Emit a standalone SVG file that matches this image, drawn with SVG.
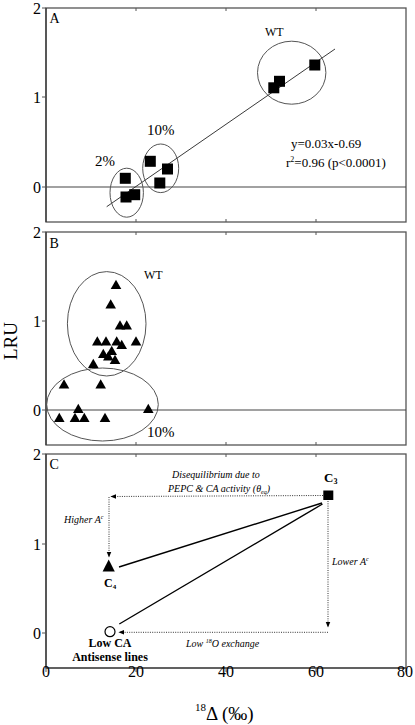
<svg xmlns="http://www.w3.org/2000/svg" xmlns:xlink="http://www.w3.org/1999/xlink" width="415" height="725" viewBox="0 0 415 725">
<style>
text{font-family:"Liberation Serif","Times New Roman",serif;fill:#000}
.frame{fill:none;stroke:#555;stroke-width:1.3}
.ax{stroke:#333;stroke-width:1.2;fill:none}
.tk{stroke:#555;stroke-width:1}
.zero{stroke:#444;stroke-width:1.2}
.ell{fill:none;stroke:#555;stroke-width:1}
.sq{fill:#000}
.tl{font-size:16px}
.pl{font-size:14px}
.lab{font-size:15px}
.it{font-style:italic;font-size:10px}
.bd{font-weight:bold;font-size:12px}
.dot{stroke:#333;stroke-width:1;stroke-dasharray:1,1.3;fill:none}
.sol{stroke:#000;stroke-width:1.4;fill:none}
</style>
<defs>
<path id="tri" d="M0,-4.7 L5.3,4.5 L-5.3,4.5 Z" fill="#000"/>
<marker id="ah" viewBox="0 0 10 10" refX="9" refY="5" markerWidth="6" markerHeight="6" orient="auto" markerUnits="userSpaceOnUse"><path d="M0,1 L10,5 L0,9 Z" fill="#000"/></marker>
</defs>

<!-- Panel A -->
<g id="panelA">
<rect class="frame" x="46" y="8" width="360" height="214"/>
<line class="ax" x1="46" y1="8" x2="46" y2="222"/>
<line class="tk" x1="42" y1="8" x2="46" y2="8"/>
<line class="tk" x1="42" y1="97" x2="46" y2="97"/>
<line class="tk" x1="42" y1="187" x2="46" y2="187"/>
<line class="tk" x1="136" y1="8" x2="136" y2="11"/>
<line class="tk" x1="226" y1="8" x2="226" y2="11"/>
<line class="tk" x1="316" y1="8" x2="316" y2="11"/>
<line class="tk" x1="136" y1="222" x2="136" y2="219"/>
<line class="tk" x1="226" y1="222" x2="226" y2="219"/>
<line class="tk" x1="316" y1="222" x2="316" y2="219"/>
<line class="zero" x1="46" y1="187" x2="406" y2="187"/>
<text class="tl" x="41" y="14" text-anchor="end">2</text>
<text class="tl" x="41" y="103" text-anchor="end">1</text>
<text class="tl" x="41" y="193" text-anchor="end">0</text>
<text class="pl" x="49.5" y="23">A</text>
<line x1="106.7" y1="206.7" x2="335" y2="49" stroke="#222" stroke-width="0.9"/>
<ellipse class="ell" cx="126.7" cy="192.7" rx="16.7" ry="24.5"/>
<ellipse class="ell" cx="160.7" cy="168.3" rx="18" ry="24.3"/>
<ellipse class="ell" cx="291.7" cy="72.7" rx="34.2" ry="31.5"/>
<rect class="sq" x="119.8" y="172.8" width="11" height="11"/>
<rect class="sq" x="120.5" y="191.5" width="11" height="11"/>
<rect class="sq" x="129.2" y="189.2" width="11" height="11"/>
<rect class="sq" x="144.8" y="155.8" width="11" height="11"/>
<rect class="sq" x="162" y="163.5" width="11" height="11"/>
<rect class="sq" x="154.3" y="177.5" width="11" height="11"/>
<rect class="sq" x="268.3" y="82.3" width="11" height="11"/>
<rect class="sq" x="274" y="75.8" width="11" height="11"/>
<rect class="sq" x="309.3" y="59.5" width="11" height="11"/>
<text class="lab" x="95" y="166">2%</text>
<text class="lab" x="147" y="135">10%</text>
<text x="265" y="36" style="font-size:12px">WT</text>
<text x="291" y="148" style="font-size:13px">y=0.03x-0.69</text>
<text x="286" y="167" style="font-size:13px">r<tspan dy="-5" style="font-size:8px">2</tspan><tspan dy="5">=0.96 (p&lt;0.0001)</tspan></text>
</g>

<!-- Panel B -->
<g id="panelB">
<rect class="frame" x="46" y="232" width="360" height="213"/>
<line class="ax" x1="46" y1="232" x2="46" y2="445"/>
<line class="tk" x1="42" y1="232" x2="46" y2="232"/>
<line class="tk" x1="42" y1="321" x2="46" y2="321"/>
<line class="tk" x1="42" y1="410" x2="46" y2="410"/>
<line class="tk" x1="136" y1="232" x2="136" y2="235"/>
<line class="tk" x1="226" y1="232" x2="226" y2="235"/>
<line class="tk" x1="316" y1="232" x2="316" y2="235"/>
<line class="tk" x1="136" y1="445" x2="136" y2="442"/>
<line class="tk" x1="226" y1="445" x2="226" y2="442"/>
<line class="tk" x1="316" y1="445" x2="316" y2="442"/>
<line class="zero" x1="46" y1="410" x2="406" y2="410"/>
<text class="tl" x="41" y="238" text-anchor="end">2</text>
<text class="tl" x="41" y="327" text-anchor="end">1</text>
<text class="tl" x="41" y="416" text-anchor="end">0</text>
<text class="pl" x="49.5" y="248">B</text>
<ellipse class="ell" cx="106.7" cy="323.8" rx="39.3" ry="52.2"/>
<ellipse class="ell" cx="102.5" cy="404.5" rx="55.8" ry="36.5"/>
<use href="#tri" x="116" y="284.5"/>
<use href="#tri" x="110.7" y="304"/>
<use href="#tri" x="120" y="325"/>
<use href="#tri" x="126.7" y="325"/>
<use href="#tri" x="97.3" y="341"/>
<use href="#tri" x="106" y="341"/>
<use href="#tri" x="116.7" y="341"/>
<use href="#tri" x="121.7" y="344.5"/>
<use href="#tri" x="136" y="341"/>
<use href="#tri" x="111.7" y="350.5"/>
<use href="#tri" x="103.3" y="353.5"/>
<use href="#tri" x="108.3" y="356"/>
<use href="#tri" x="115" y="359.5"/>
<use href="#tri" x="93.3" y="363.5"/>
<use href="#tri" x="64" y="384"/>
<use href="#tri" x="100.7" y="384"/>
<use href="#tri" x="78.3" y="408.5"/>
<use href="#tri" x="59.3" y="417.5"/>
<use href="#tri" x="75" y="417.5"/>
<use href="#tri" x="84.3" y="417.5"/>
<use href="#tri" x="105" y="417.5"/>
<use href="#tri" x="148.3" y="408.5"/>
<text x="144" y="279" style="font-size:12px">WT</text>
<text class="lab" x="147" y="437">10%</text>
</g>

<!-- Panel C -->
<g id="panelC">
<rect class="frame" x="46" y="454" width="360" height="214"/>
<line class="ax" x1="46" y1="454" x2="46" y2="668"/>
<line class="ax" x1="46" y1="668" x2="406" y2="668"/>
<line class="tk" x1="42" y1="454" x2="46" y2="454"/>
<line class="tk" x1="42" y1="544" x2="46" y2="544"/>
<line class="tk" x1="42" y1="633" x2="46" y2="633"/>
<line class="tk" x1="136" y1="454" x2="136" y2="457"/>
<line class="tk" x1="226" y1="454" x2="226" y2="457"/>
<line class="tk" x1="316" y1="454" x2="316" y2="457"/>
<line class="tk" x1="46" y1="668" x2="46" y2="672"/>
<line class="tk" x1="136" y1="668" x2="136" y2="672"/>
<line class="tk" x1="226" y1="668" x2="226" y2="672"/>
<line class="tk" x1="316" y1="668" x2="316" y2="672"/>
<line class="tk" x1="406" y1="668" x2="406" y2="672"/>
<text class="tl" x="41" y="460" text-anchor="end">2</text>
<text class="tl" x="41" y="550" text-anchor="end">1</text>
<text class="tl" x="41" y="639" text-anchor="end">0</text>
<text class="pl" x="49.5" y="469">C</text>
</g>

<g id="connectors">
<line class="sol" x1="322" y1="503" x2="119" y2="567"/>
<line class="sol" x1="322.5" y1="504" x2="119.3" y2="624"/>
<line class="dot" x1="323" y1="495.5" x2="111" y2="496.5" marker-end="url(#ah)"/>
<line class="dot" x1="109" y1="497" x2="109" y2="557" marker-end="url(#ah)"/>
<line class="dot" x1="328" y1="501" x2="328" y2="627" marker-end="url(#ah)"/>
<line class="dot" x1="328" y1="632.3" x2="119" y2="632.3" marker-end="url(#ah)"/>
</g>

<g id="C3">
<rect class="sq" x="323.3" y="490.5" width="10" height="9.5"/>
<text x="324" y="481.7" style="font-weight:bold;font-size:13px">C<tspan dy="2" style="font-size:8px">3</tspan></text>
</g>
<g id="C4">
<path d="M108.7,559.5 L114.8,571.5 L102.6,571.5 Z" fill="#000"/>
<text x="104" y="586.7" style="font-weight:bold;font-size:12px">C<tspan dy="2" style="font-size:7px">4</tspan></text>
</g>
<g id="lowCA">
<circle cx="110" cy="631.7" r="5" fill="#fff" stroke="#000" stroke-width="1.2"/>
<text class="bd" x="110" y="646.7" text-anchor="middle">Low CA</text>
<text class="bd" x="110" y="660.7" text-anchor="middle">Antisense lines</text>
</g>
<g id="labels">
<text class="it" x="172" y="478">Disequilibrium due to</text>
<text class="it" x="168" y="492">PEPC &amp; CA activity (θ<tspan dy="2" style="font-size:6px">eq</tspan><tspan dy="-2">)</tspan></text>
<text class="it" x="64" y="523">Higher A<tspan dy="-4" style="font-size:6px">c</tspan></text>
<text class="it" x="332" y="565">Lower A<tspan dy="-4" style="font-size:6px">c</tspan></text>
<text class="it" x="186" y="647">Low <tspan dy="-4" style="font-size:6px">18</tspan><tspan dy="4">O exchange</tspan></text>
</g>

<g id="axes-text">
<text class="tl" x="46" y="677" text-anchor="middle">0</text>
<text class="tl" x="136" y="677" text-anchor="middle">20</text>
<text class="tl" x="226" y="677" text-anchor="middle">40</text>
<text class="tl" x="316" y="677" text-anchor="middle">60</text>
<text class="tl" x="405" y="677" text-anchor="middle">80</text>
<text x="195" y="720" style="font-size:19px"><tspan dy="-9" style="font-size:11px">18</tspan><tspan dy="9">Δ (‰)</tspan></text>
<text x="16.5" y="341" transform="rotate(-90 16.5 341)" text-anchor="middle" style="font-size:19px">LRU</text>
</g>
</svg>
